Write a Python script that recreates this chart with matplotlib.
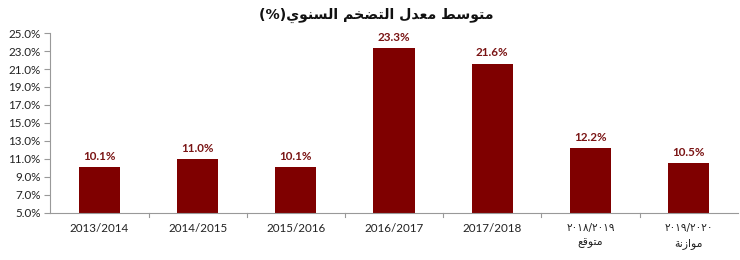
import matplotlib
matplotlib.use("Agg")
import matplotlib.pyplot as plt

# ---- data ----
years = ["2013/2014", "2014/2015", "2015/2016", "2016/2017", "2017/2018",
         "٢٠١٨/٢٠١٩", "٢٠١٩/٢٠٢٠"]
subtitles = ["", "", "", "", "", "متوقع", "موازنة"]
values = [10.1, 11.0, 10.1, 23.3, 21.6, 12.2, 10.5]
title = "متوسط معدل التضخم السنوي(%)"
yticks = [5, 7, 9, 11, 13, 15, 17, 19, 21, 23, 25]

# ---- minimal Arabic shaping (presentation forms + visual order) ----
FORMS = {  # isolated, final, initial, medial
    'ا': (0xFE8D, 0xFE8E, None, None),
    'ة': (0xFE93, 0xFE94, None, None),
    'د': (0xFEA9, 0xFEAA, None, None),
    'ز': (0xFEAF, 0xFEB0, None, None),
    'و': (0xFEED, 0xFEEE, None, None),
    'ت': (0xFE95, 0xFE96, 0xFE97, 0xFE98),
    'خ': (0xFEA5, 0xFEA6, 0xFEA7, 0xFEA8),
    'س': (0xFEB1, 0xFEB2, 0xFEB3, 0xFEB4),
    'ض': (0xFEBD, 0xFEBE, 0xFEBF, 0xFEC0),
    'ط': (0xFEC1, 0xFEC2, 0xFEC3, 0xFEC4),
    'ع': (0xFEC9, 0xFECA, 0xFECB, 0xFECC),
    'ق': (0xFED5, 0xFED6, 0xFED7, 0xFED8),
    'ل': (0xFEDD, 0xFEDE, 0xFEDF, 0xFEE0),
    'م': (0xFEE1, 0xFEE2, 0xFEE3, 0xFEE4),
    'ن': (0xFEE5, 0xFEE6, 0xFEE7, 0xFEE8),
    'ي': (0xFEF1, 0xFEF2, 0xFEF3, 0xFEF4),
}
MIRROR = {'(': ')', ')': '('}


def shape(word):
    out = []
    n = len(word)
    for i, ch in enumerate(word):
        if ch not in FORMS:
            out.append(ch)
            continue
        iso, fin, ini, med = FORMS[ch]
        prev = word[i - 1] if i > 0 else None
        nxt = word[i + 1] if i + 1 < n else None
        joins_prev = prev in FORMS and FORMS[prev][2] is not None
        joins_next = nxt in FORMS and ini is not None
        if joins_prev and joins_next:
            out.append(chr(med))
        elif joins_prev:
            out.append(chr(fin))
        elif joins_next:
            out.append(chr(ini))
        else:
            out.append(chr(iso))
    return "".join(out)


def ar(text):
    shaped = shape(text)
    runs, cur, cur_ltr = [], "", None
    for ch in shaped:
        ltr = ch.isdigit() or ch in "%."
        if cur_ltr is None or ltr == cur_ltr:
            cur += ch
        else:
            runs.append((cur, cur_ltr))
            cur = ch
        cur_ltr = ltr
    if cur:
        runs.append((cur, cur_ltr))
    res = []
    for r, ltr in reversed(runs):
        if ltr:
            res.append(r)
        else:
            res.append("".join(MIRROR.get(c, c) for c in reversed(r)))
    return "".join(res)


plt.rcParams['font.family'] = ['Lato', 'DejaVu Sans']

fig = plt.figure(figsize=(7.4, 2.6), dpi=100)
ax = fig.add_axes([0.068, 0.181, 0.929, 0.692])

x = list(range(len(values)))
ax.bar(x, values, width=0.42, color='#7f0000', bottom=0)
ax.set_ylim(5, 25)
ax.set_xlim(-0.5, len(values) - 0.5)
ax.set_yticks(yticks)
ax.set_yticklabels([f"{v:.1f}%" for v in yticks], fontsize=8.4, color='#222222')

for xi, v in zip(x, values):
    ax.text(xi, v + 0.6, f"{v:.1f}%", ha='center', va='bottom', fontsize=8.4,
            fontweight='bold', color='#7a1414')

# category labels
ax.set_xticks(x)
ax.set_xticklabels([])
ax.tick_params(axis='x', length=0)
for xi, (yl, sub) in enumerate(zip(years, subtitles)):
    if sub:
        ax.text(xi, -0.083, yl, transform=ax.get_xaxis_transform(), ha='center',
                va='center', fontsize=7.6, color='#222222', family=['DejaVu Sans'])
        ax.text(xi, -0.168, ar(sub), transform=ax.get_xaxis_transform(), ha='center',
                va='center', fontsize=7.8, color='#222222', family=['DejaVu Sans'])
    else:
        ax.text(xi, -0.085, yl, transform=ax.get_xaxis_transform(), ha='center',
                va='center', fontsize=8.4, color='#222222')

# category boundary ticks
for b in [i + 0.5 for i in range(len(values) - 1)]:
    ax.plot([b, b], [0, -0.025], transform=ax.get_xaxis_transform(),
            color='#999999', lw=0.8, clip_on=False)

for s in ['top', 'right']:
    ax.spines[s].set_visible(False)
ax.spines['left'].set_color('#999999')
ax.spines['bottom'].set_color('#999999')
ax.tick_params(axis='y', length=4, color='#999999', pad=3)

fig.text(0.508, 0.94, ar(title), ha='center', va='center', fontsize=10.2,
         fontweight='bold', color='#111111', family=['DejaVu Sans'])

fig.savefig("out.png", dpi=100)
